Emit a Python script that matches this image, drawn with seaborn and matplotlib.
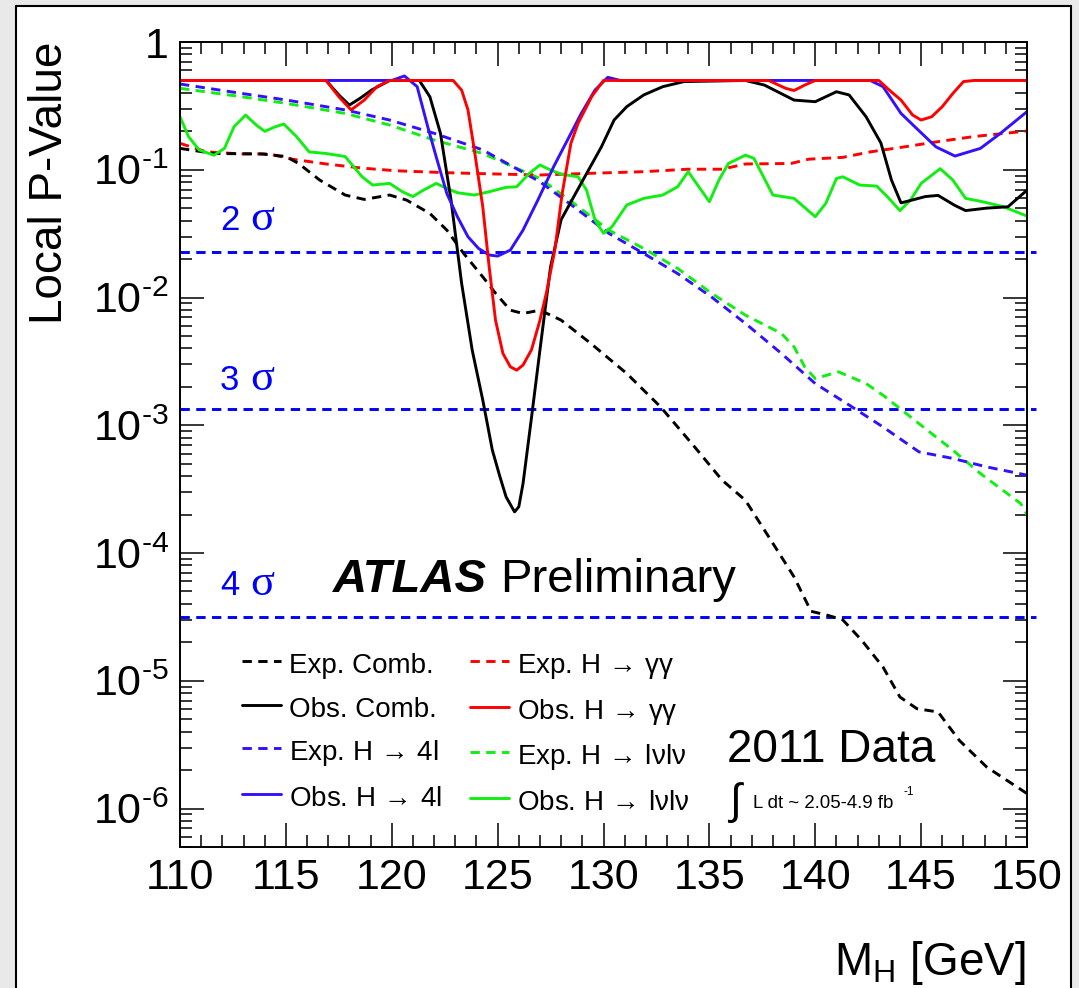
import numpy as np
import pandas as pd
import matplotlib
matplotlib.use('Agg')
import matplotlib.pyplot as plt
import seaborn as sns
from matplotlib.lines import Line2D
from matplotlib.patches import Rectangle
from matplotlib.ticker import LogLocator, MultipleLocator, NullFormatter, FuncFormatter

# ---- data (mass in GeV, local p-value) ----
m_exp_comb = [110, 111.6, 113.85, 115.0, 115.6, 116.6, 117.8, 118.7, 119.9, 120.7, 121.8, 122.6,
              123.4, 124.3, 124.9, 125.6, 126.2, 127.0, 128.0, 129.4, 131.1, 132.7, 134.3, 135.6,
              136.7, 138.0, 139.0, 139.8, 140.6, 141.3, 142.2, 143.2, 144.0, 144.8, 145.8, 146.8,
              148.1, 150]
p_exp_comb = [0.147, 0.134, 0.133, 0.127, 0.112, 0.083, 0.0634, 0.0586, 0.0634, 0.0579, 0.0455, 0.0337,
              0.0221, 0.0145, 0.0108, 7.96e-3, 7.5e-3, 7.96e-3, 6.65e-3, 4.37e-3, 2.54e-3, 1.39e-3, 6.78e-4, 3.72e-4,
              2.59e-4, 1.19e-4, 6.5e-5, 3.5e-5, 3.25e-5, 3.0e-5, 2.07e-5, 1.28e-5, 7.46e-6, 6.05e-6, 5.7e-6, 3.42e-6,
              2.11e-6, 1.31e-6]

m_obs_comb = [110, 116.9, 117.5, 118.0, 118.5, 119.05, 119.9, 121.3, 121.8, 122.3, 122.8, 123.3, 123.8,
              124.3, 124.75, 125.1, 125.4, 125.8, 126.0, 126.2, 126.6, 127.0, 127.5, 128.0, 128.6, 129.3,
              129.9, 130.5, 131.1, 131.9, 132.8, 133.8, 136.7, 137.6, 139.0, 140.0, 141.0, 141.6, 142.4,
              143.1, 143.6, 144.05, 144.5, 145.2, 145.8, 146.6, 147.1, 148.1, 149.1, 150]
p_obs_comb = [0.5, 0.5, 0.385, 0.321, 0.362, 0.421, 0.5, 0.5, 0.373, 0.193, 0.0579, 0.0129, 3.87e-3,
              1.57e-3, 6.4e-4, 4.0e-4, 2.75e-4, 2.1e-4, 2.3e-4, 3.5e-4, 1.15e-3, 3.9e-3, 0.0174, 0.0407, 0.0617,
              0.1, 0.151, 0.245, 0.312, 0.385, 0.447, 0.49, 0.5, 0.46, 0.351, 0.341, 0.408, 0.385, 0.26,
              0.162, 0.083, 0.055, 0.0575, 0.0617, 0.063, 0.0525, 0.0479, 0.0501, 0.0513, 0.0692]

m_exp_4l = [110, 112.9, 115.0, 117.8, 119.9, 122.0, 124.3, 127.0, 128.6, 130.25, 131.9, 133.5, 135.1,
            136.7, 138.4, 140.0, 141.6, 143.2, 144.9, 146.5, 148.1, 150]
p_exp_4l = [0.469, 0.396, 0.352, 0.294, 0.245, 0.193, 0.143, 0.0805, 0.0513, 0.0318, 0.0221, 0.0154, 0.0101,
            6.27e-3, 3.65e-3, 2.12e-3, 1.44e-3, 9.7e-4, 6.19e-4, 5.5e-4, 4.72e-4, 4.07e-4]

m_obs_4l = [110, 120.0, 120.6, 121.2, 121.7, 122.1, 122.6, 123.1, 123.6, 124.1, 124.6, 125.0, 125.6,
            126.2, 126.9, 127.65, 128.3, 128.95, 129.6, 130.2, 130.8, 142.6, 143.2, 144.05, 144.86,
            145.7, 146.6, 147.8, 148.75, 150]
p_obs_4l = [0.5, 0.5, 0.542, 0.447, 0.217, 0.126, 0.0653, 0.0429, 0.0299, 0.0242, 0.0215, 0.0211, 0.0235,
            0.0337, 0.0579, 0.106, 0.171, 0.276, 0.421, 0.529, 0.5, 0.5, 0.447, 0.276, 0.205,
            0.151, 0.128, 0.147, 0.193, 0.285]

m_exp_gg = [110, 111.25, 112.9, 114.2, 115.3, 116.9, 118.6, 120.2, 122.6, 125.1, 127.0, 129.4, 131.9,
            134.0, 135.6, 136.7, 138.85, 139.7, 141.3, 142.6, 144.2, 145.8, 147.5, 150]
p_exp_gg = [0.161, 0.138, 0.133, 0.133, 0.121, 0.111, 0.103, 0.0982, 0.0948, 0.0925, 0.091, 0.0938, 0.0966,
            0.101, 0.101, 0.111, 0.112, 0.121, 0.125, 0.138, 0.151, 0.166, 0.182, 0.201]

m_obs_gg = [110, 116.9, 117.5, 118.08, 118.7, 119.3, 119.9, 122.9, 123.3, 123.6, 123.9, 124.3, 124.6,
            124.9, 125.25, 125.6, 125.9, 126.2, 126.6, 127.0, 127.3, 127.7, 128.05, 128.46, 128.8,
            129.44, 130.0, 137.8, 138.6, 139.0, 139.5, 140.0, 143.0, 143.5, 144.05, 144.6, 145.0,
            145.5, 146.0, 146.5, 147.0, 147.5, 150]
p_obs_gg = [0.5, 0.5, 0.373, 0.294, 0.351, 0.447, 0.5, 0.5, 0.42, 0.294, 0.143, 0.051, 0.0174,
            6.65e-3, 3.65e-3, 2.87e-3, 2.7e-3, 2.96e-3, 3.9e-3, 6.65e-3, 0.0108, 0.0235, 0.0653, 0.161, 0.231,
            0.373, 0.5, 0.5, 0.434, 0.417, 0.46, 0.5, 0.5, 0.42, 0.351, 0.268, 0.245,
            0.26, 0.312, 0.396, 0.49, 0.5, 0.5]

m_exp_lvlv = [110, 112.9, 115.0, 117.8, 119.9, 122.0, 124.3, 127.0, 128.6, 130.25, 131.9, 133.5, 135.1,
              136.7, 138.4, 139.0, 139.5, 140.0, 141.1, 142.4, 143.2, 144.9, 146.5, 147.8, 149.7, 150]
p_exp_lvlv = [0.434, 0.373, 0.331, 0.276, 0.224, 0.171, 0.134, 0.0855, 0.0546, 0.0337, 0.0242, 0.0169, 0.0108,
              7.28e-3, 5.24e-3, 4.11e-3, 2.87e-3, 2.32e-3, 2.62e-3, 2.12e-3, 1.72e-3, 1.03e-3, 6.38e-4, 4.19e-4, 2.44e-4, 2.0e-4]

m_obs_lvlv = [110, 110.4, 110.9, 111.6, 112.1, 112.55, 113.1, 113.6, 114.0, 114.5, 114.9, 115.5, 116.1,
              116.9, 117.8, 118.6, 119.1, 119.9, 120.5, 121.0, 121.5, 122.1, 122.6, 123.1, 123.9, 124.6,
              125.4, 125.9, 126.5, 127.0, 127.5, 128.0, 128.8, 129.2, 129.6, 130.0, 130.4, 131.1, 131.9,
              132.8, 133.5, 134.0, 135.0, 135.45, 135.9, 136.7, 137.1, 138.0, 139.0, 140.0, 140.5, 141.0,
              141.3, 142.1, 142.9, 143.4, 144.0, 144.5, 145.0, 145.9, 146.5, 147.1, 147.9, 148.9, 150]
p_obs_lvlv = [0.26, 0.182, 0.143, 0.130, 0.147, 0.217, 0.268, 0.224, 0.200, 0.217, 0.228, 0.182, 0.138,
              0.134, 0.127, 0.0881, 0.0759, 0.0782, 0.0673, 0.0617, 0.0693, 0.0782, 0.0714, 0.0661, 0.0634, 0.0673,
              0.0728, 0.0736, 0.0938, 0.109, 0.0995, 0.0925, 0.0881, 0.0693, 0.0404, 0.0318, 0.0358, 0.053, 0.0597,
              0.0634, 0.0736, 0.0966, 0.0562, 0.083, 0.112, 0.130, 0.123, 0.0634, 0.0597, 0.0429, 0.0546, 0.0855,
              0.0881, 0.0759, 0.0745, 0.0617, 0.0479, 0.0579, 0.0782, 0.102, 0.083, 0.0597, 0.0562, 0.0513, 0.0434]

sigma_labels = ['2', '3', '4']
sigma_p = [0.02275, 1.35e-3, 3.17e-5]

x_ticks = [110, 115, 120, 125, 130, 135, 140, 145, 150]

# ---- style ----
sns.set_style('ticks')
plt.rcParams['font.family'] = ['Liberation Sans', 'DejaVu Sans']
plt.rcParams['mathtext.fontset'] = 'custom'
plt.rcParams['mathtext.rm'] = 'Liberation Sans'
plt.rcParams['mathtext.it'] = 'Liberation Sans:italic'
plt.rcParams['mathtext.bf'] = 'Liberation Sans:bold'
for key in ['text.color', 'axes.labelcolor', 'xtick.color', 'ytick.color', 'axes.edgecolor']:
    plt.rcParams[key] = 'black'

BLACK, RED, BLUE, GREEN = '#000000', '#ff0000', '#3311ff', '#11ee11'
DASH = (3.2, 2.2)
LW = 2.1

ARROW = r'$\,\rightarrow\,$'
lab_exp_comb, lab_obs_comb = 'Exp. Comb.', 'Obs. Comb.'
lab_exp_4l, lab_obs_4l = f'Exp. H{ARROW}4l', f'Obs. H{ARROW}4l'
lab_exp_gg, lab_obs_gg = f'Exp. H{ARROW}γγ', f'Obs. H{ARROW}γγ'
lab_exp_lv, lab_obs_lv = f'Exp. H{ARROW}lνlν', f'Obs. H{ARROW}lνlν'

data = {
    lab_exp_comb: (m_exp_comb, p_exp_comb),
    lab_obs_comb: (m_obs_comb, p_obs_comb),
    lab_exp_4l: (m_exp_4l, p_exp_4l),
    lab_obs_4l: (m_obs_4l, p_obs_4l),
    lab_exp_gg: (m_exp_gg, p_exp_gg),
    lab_obs_gg: (m_obs_gg, p_obs_gg),
    lab_exp_lv: (m_exp_lvlv, p_exp_lvlv),
    lab_obs_lv: (m_obs_lvlv, p_obs_lvlv),
}
colors = {lab_exp_comb: BLACK, lab_obs_comb: BLACK, lab_exp_4l: BLUE, lab_obs_4l: BLUE,
          lab_exp_gg: RED, lab_obs_gg: RED, lab_exp_lv: GREEN, lab_obs_lv: GREEN}
dashes = {k: (DASH if k.startswith('Exp') else '') for k in data}
# drawing order: expected first, observed γγ on top
order = [lab_exp_lv, lab_exp_4l, lab_exp_gg, lab_exp_comb, lab_obs_lv, lab_obs_comb, lab_obs_4l, lab_obs_gg]

df = pd.concat([pd.DataFrame({'mass': m, 'p': p, 'series': k}) for k, (m, p) in data.items()],
               ignore_index=True)

W, H = 1079, 988
fig = plt.figure(figsize=(W / 100, H / 100), dpi=100, facecolor='#e9e9e9')
fig.patches.append(Rectangle((16 / W, -0.05), (1071 - 16) / W, 1.05 - 6 / H, transform=fig.transFigure,
                             facecolor='white', edgecolor='black', lw=1.5, zorder=-10))

ax = fig.add_axes([180 / W, 1 - 847 / H, 847 / W, 805 / H])
ax.set_facecolor('white')
ax.set_yscale('log')

sns.lineplot(data=df, x='mass', y='p', hue='series', style='series', hue_order=order, style_order=order,
             palette=colors, dashes=dashes, estimator=None, sort=False, linewidth=LW, legend=False, ax=ax)

for pv in sigma_p:
    ax.axhline(pv, xmin=0, xmax=1.0106, color='#0000ff', lw=LW, dashes=DASH, clip_on=False, zorder=1)

ax.set_xlim(110, 150)
ax.set_ylim(5e-7, 1)
ax.set_xlabel('')
ax.set_ylabel('')
ax.set_xticks(x_ticks)
ax.xaxis.set_minor_locator(MultipleLocator(1))
ax.yaxis.set_major_locator(LogLocator(base=10, numticks=20))
ax.yaxis.set_minor_locator(LogLocator(base=10, subs=np.arange(2, 10), numticks=20))
ax.yaxis.set_minor_formatter(NullFormatter())
ax.yaxis.set_major_formatter(FuncFormatter(
    lambda v, _: '1' if abs(v - 1) < 1e-9 else r'$10^{\text{-%d}}$' % round(-np.log10(v))))
ax.tick_params(which='both', direction='in', top=True, right=True, width=1.1, labelsize=31, pad=8)
ax.tick_params(which='major', length=17)
ax.tick_params(which='minor', length=8.6)
for s in ax.spines.values():
    s.set_linewidth(1.4)

# axis titles
fig.text(50 / W, 1 - 42 / H, 'Local P-Value', rotation=90, ha='center', va='top', fontsize=33)
fig.text(1026 / W, 1 - 975 / H, r'M$_{\mathrm{H}}$ [GeV]', ha='right', va='baseline', fontsize=33)

# sigma labels
for lab, yb in zip(sigma_labels, [230, 390, 595]):
    fig.text(220 / W, 1 - yb / H, lab, color='#0000ff', fontsize=25, ha='left', va='baseline')
    fig.text(250 / W, 1 - yb / H, 'σ', color='#0000ff', fontsize=32, ha='left', va='baseline',
             family='Liberation Serif')

fig.text(333 / W, 1 - 592 / H, 'ATLAS', fontsize=34, fontweight='bold', fontstyle='italic',
         ha='left', va='baseline')
fig.text(500 / W, 1 - 592 / H, 'Preliminary', fontsize=34, ha='left', va='baseline')
fig.text(727 / W, 1 - 762 / H, '2011 Data', fontsize=33, ha='left', va='baseline')
fig.text(729 / W, 1 - 803 / H, '∫', fontsize=31, ha='left', va='center')
fig.text(753 / W, 1 - 808 / H, 'L dt ~ 2.05-4.9 fb', fontsize=13.4, ha='left', va='baseline')
fig.text(904 / W, 1 - 795 / H, '-1', fontsize=8.5, ha='left', va='baseline')

handles = {k: Line2D([], [], color=colors[k], lw=LW, dashes=(DASH if k.startswith('Exp') else (None, None)))
           for k in data}
leg_order = [lab_exp_comb, lab_obs_comb, lab_exp_4l, lab_obs_4l, lab_exp_gg, lab_obs_gg, lab_exp_lv, lab_obs_lv]
ax.legend([handles[k] for k in leg_order], leg_order, ncol=2, loc='upper left',
          bbox_to_anchor=(242 / W, 1 - 649 / H), bbox_transform=fig.transFigure, frameon=False,
          fontsize=20, handlelength=1.4, handleheight=1.3, handletextpad=0.3, columnspacing=1.0,
          labelspacing=0.47, borderpad=0, borderaxespad=0)

fig.savefig('out.png', dpi=100, facecolor=fig.get_facecolor())
